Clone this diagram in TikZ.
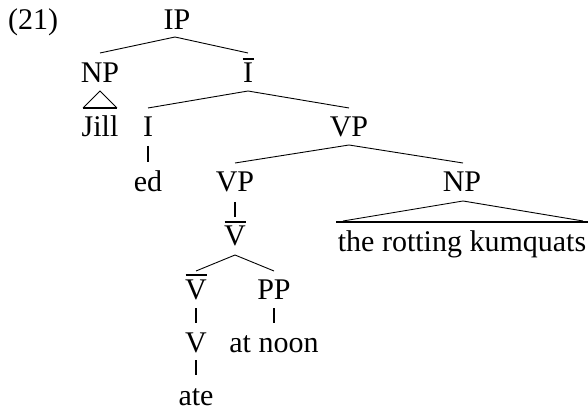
\documentclass[tikz,border=0pt]{standalone}
\usepackage{fontspec}
\setmainfont{Liberation Serif}
\begin{document}
\begin{tikzpicture}[x=1pt,y=-1pt,
  lbl/.style={anchor=base,inner sep=0pt,font=\fontsize{30}{35}\selectfont},
  branch/.style={line width=0.9pt},
  unary/.style={line width=2.2pt},
  barline/.style={line width=2.2pt},
  tribase/.style={line width=2.6pt}]
\useasboundingbox (0,0) rectangle (588,411);
% labels
\node[lbl,anchor=base west] (ex) at (8,30) {(21)};
\node[lbl] (IP) at (177,30) {IP};
\node[lbl] (NP) at (100,83) {NP};
\node[lbl] (Ibar) at (248,83) {I};
\node[lbl] (Jill) at (100,137) {Jill};
\node[lbl] (I) at (148,137) {I};
\node[lbl] (VPa) at (349,137) {VP};
\node[lbl] (ed) at (148,192) {ed};
\node[lbl] (VPb) at (235,192) {VP};
\node[lbl] (NPb) at (462,192) {NP};
\node[lbl] (Vbara) at (235,246) {V};
\node[lbl] (rk) at (462,252) {the rotting kumquats};
\node[lbl] (Vbarb) at (196,299) {V};
\node[lbl] (PP) at (274,299) {PP};
\node[lbl] (V) at (196,352) {V};
\node[lbl] (an) at (274,352) {at noon};
\node[lbl] (ate) at (196,405) {ate};
% bars
\draw[barline] ([xshift=-5.5pt,yshift=24pt]Ibar.base) -- ([xshift=5.5pt,yshift=24pt]Ibar.base);
\draw[barline] ([xshift=-10.5pt,yshift=24pt]Vbara.base) -- ([xshift=10.5pt,yshift=24pt]Vbara.base);
\draw[barline] ([xshift=-10.5pt,yshift=24pt]Vbarb.base) -- ([xshift=10.5pt,yshift=24pt]Vbarb.base);
% branches
\draw[branch] ([yshift=30pt]NP.base) -- ([xshift=-2pt,yshift=-7pt]IP.base) -- ([yshift=30pt]Ibar.base);
\draw[branch] ([yshift=29pt]I.base) -- ([yshift=-8pt]Ibar.base) -- ([yshift=29pt]VPa.base);
\draw[branch] ([yshift=29pt]VPb.base) -- ([yshift=-8pt]VPa.base) -- ([xshift=1pt,yshift=29pt]NPb.base);
\draw[branch] ([yshift=28pt]Vbarb.base) -- ([yshift=-9pt]Vbara.base) -- ([yshift=28pt]PP.base);
% unary
\draw[unary] ([yshift=-9pt]I.base) -- ([yshift=30pt]ed.base);
\draw[unary] ([yshift=-10pt]VPb.base) -- ([yshift=29pt]Vbara.base);
\draw[unary] ([yshift=-9pt]Vbarb.base) -- ([yshift=29pt]V.base);
\draw[unary] ([yshift=-9pt]PP.base) -- ([yshift=29pt]an.base);
\draw[unary] ([yshift=-8pt]V.base) -- ([yshift=30pt]ate.base);
% triangles
\draw[branch] ([xshift=-17pt,yshift=29pt]Jill.base) -- ([yshift=-8pt]NP.base) -- ([xshift=17pt,yshift=29pt]Jill.base);
\draw[line width=1.6pt] ([xshift=-17pt,yshift=29pt]Jill.base) -- ([xshift=17pt,yshift=29pt]Jill.base);
\draw[branch] ([xshift=-119pt,yshift=31pt]rk.base) -- ([xshift=1pt,yshift=-9pt]NPb.base) -- ([xshift=121pt,yshift=31pt]rk.base);
\draw[tribase] ([xshift=-126pt,yshift=30pt]rk.base) -- ([xshift=126pt,yshift=30pt]rk.base);
\end{tikzpicture}
\end{document}
